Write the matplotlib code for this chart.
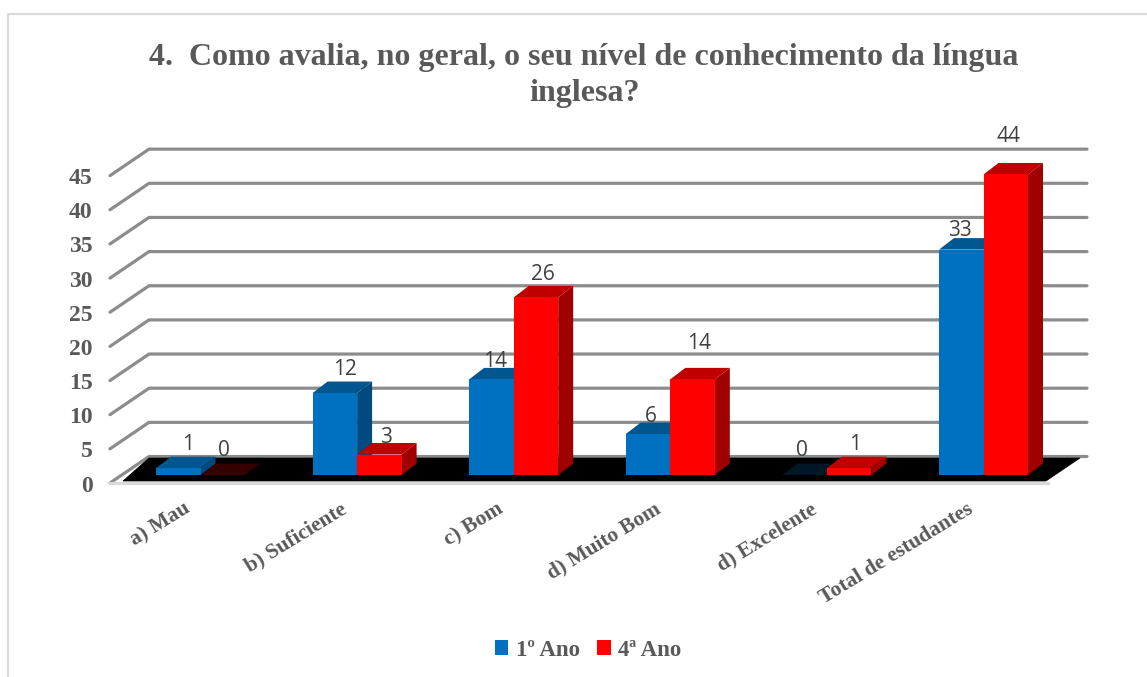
import matplotlib
matplotlib.use("Agg")
import matplotlib.pyplot as plt
from matplotlib.patches import Polygon, Patch

categories = ["a) Mau", "b) Suficiente", "c) Bom", "d) Muito Bom", "d) Excelente", "Total de estudantes"]
ano1 = [1, 12, 14, 6, 0, 33]
ano4 = [0, 3, 26, 14, 1, 44]
series_names = ["1º Ano", "4ª Ano"]
y_ticks = [0, 5, 10, 15, 20, 25, 30, 35, 40, 45]
title = "4.  Como avalia, no geral, o seu nível de conhecimento da língua\ninglesa?"

W, H = 1147, 677
PX_X = 156.6   # pixels per category
PX_Y = 6.83    # pixels per value unit
X0, Y0 = 200.5, 475


def dx(px):
    return px / PX_X


def dy(px):
    return px / PX_Y


def xp(px):
    return (px - X0) / PX_X


def yp(px):
    return (Y0 - px) / PX_Y


fig = plt.figure(figsize=(W / 100, H / 100), dpi=100, facecolor="white")
ax = fig.add_axes([0, 0, 1, 1])
ax.set_xlim(xp(0), xp(W))
ax.set_ylim(yp(H), yp(0))
ax.axis("off")

serif = "Liberation Serif"
sans = "Open Sans"
grey = "#595959"

# outer frame: left and top edges only are visible in the crop
ax.plot([xp(8), xp(8), xp(W + 5)], [yp(H + 5), yp(14), yp(14)], color="#d9d9d9", lw=1.5, zorder=0)

# walls
grid_c = "#8c8c8c"
front_l, back_l, back_r, front_r = xp(110), xp(149), xp(1087), xp(1048)
front0, back0 = yp(483), yp(456.5)
for t in y_ticks:
    ax.plot([front_l, back_l, back_r], [front0 + t, back0 + t, back0 + t], color=grid_c, lw=2.3,
            solid_capstyle="round", solid_joinstyle="round", zorder=1)
    ax.text(xp(92.5), front0 + t - dy(3), str(t), ha="right", va="center", family=serif, weight="bold",
            fontsize=17, color=grey, zorder=6)

# floor
ax.plot([front_l, front_r], [front0, front0], color="#d9d9d9", lw=2.3, zorder=1)
ax.add_patch(Polygon([(xp(123), yp(481)), (back_l, yp(458)), (xp(1080), yp(458)), (xp(1046), yp(481))],
                     closed=True, fc="black", ec="black", lw=0.5, zorder=2))

BAR_W = 44.5 / PX_X
DX, DY = dx(15), dy(11.5)


def bar3d(x, v, front, top, side):
    alpha = 0.28 if v == 0 else 1
    ax.add_patch(Polygon([(x + BAR_W, 0), (x + BAR_W + DX, DY), (x + BAR_W + DX, v + DY), (x + BAR_W, v)],
                         closed=True, fc=side, ec="none", zorder=3))
    ax.add_patch(Polygon([(x, v), (x + DX, v + DY), (x + BAR_W + DX, v + DY), (x + BAR_W, v)],
                         closed=True, fc=top, ec="none", alpha=alpha, zorder=3))
    ax.add_patch(Polygon([(x, 0), (x + BAR_W, 0), (x + BAR_W, v), (x, v)],
                         closed=True, fc=front, ec="none", zorder=3))


blue = ("#0070C0", "#00568F", "#004A80")
red = ("#FF0000", "#C00000", "#A00000")
# per-label offsets from the bar's centre/top, in pixels
off1 = [(10, 24), (10, 24), (4, 18), (3, 18), (-3, 24), (-1, 19)]
off4 = [(1, 24), (7, 17), (7, 23), (7, 36), (6, 24), (3, 38)]
for i, cat in enumerate(categories):
    bar3d(i - BAR_W, ano1[i], *blue)
    bar3d(i, ano4[i], *red)
    for x, v, off in ((i - BAR_W / 2, ano1[i], off1[i]), (i + BAR_W / 2, ano4[i], off4[i])):
        ax.annotate(str(v), (x, v), xytext=(off[0] * 0.72, off[1] * 0.72), textcoords="offset points",
                    ha="center", va="center", family=sans, fontsize=15, color="#404040", zorder=7)
    ax.text(i - dx(17), yp(499), cat, rotation=31.5, rotation_mode="anchor", ha="right", va="top",
            family=serif, weight="bold", fontsize=15.5, color=grey, zorder=6)

# title
ax.text(xp(584), yp(75.5), title, ha="center", va="center", family=serif, weight="bold", fontsize=23,
        color=grey, linespacing=1.35)

# legend
handles = [Patch(fc=blue[0], ec="none"), Patch(fc=red[0], ec="none")]
leg = ax.legend(handles, series_names, loc="center", bbox_to_anchor=(588 / W, 1 - 650 / H),
                bbox_transform=fig.transFigure, frameon=False, ncol=2, handlelength=0.6, handleheight=0.6,
                handletextpad=0.32, columnspacing=0.75, prop={"family": serif, "weight": "bold", "size": 16.5})
for t in leg.get_texts():
    t.set_color(grey)

fig.savefig("out.png", dpi=100)
